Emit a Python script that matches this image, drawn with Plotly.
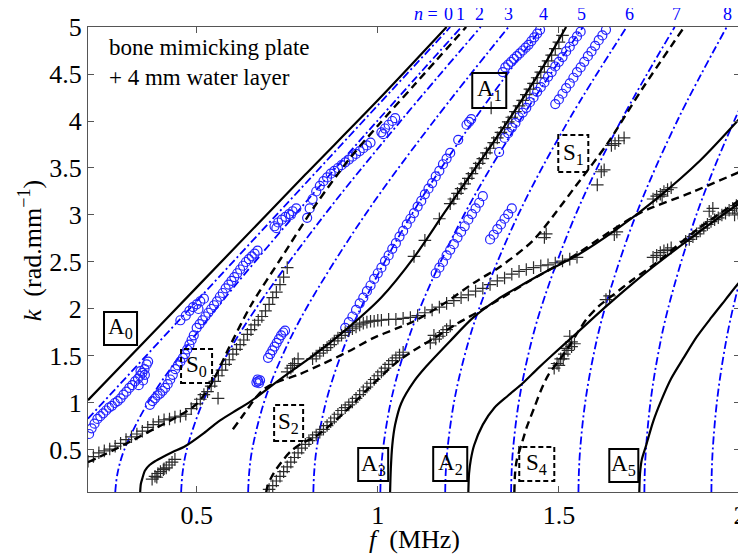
import plotly.graph_objects as go

# ---------------- theory curves: antisymmetric modes (solid black) ----------------
A0_f = [0.2, 0.4, 0.6, 0.8, 1.0, 1.19]
A0_k = [1.03, 1.83, 2.63, 3.43, 4.22, 5.0]

A1_f = [0.344, 0.346, 0.351, 0.357, 0.37, 0.385, 0.404, 0.435, 0.468, 0.52, 0.559, 0.60, 0.65,
        0.733, 0.827, 0.918, 1.009, 1.1, 1.183, 1.277, 1.368, 1.46, 1.52]
A1_k = [0.05, 0.14, 0.21, 0.28, 0.34, 0.38, 0.42, 0.48, 0.54, 0.68, 0.80, 0.90, 1.02,
        1.26, 1.52, 1.80, 2.12, 2.55, 3.02, 3.54, 4.05, 4.60, 5.0]

A3_f = [1.034, 1.036, 1.040, 1.048, 1.065, 1.10, 1.134, 1.2, 1.264, 1.33, 1.4, 1.475, 1.55, 1.66, 1.772, 1.89, 2.0]
A3_k = [0.05, 0.3, 0.55, 0.77, 1.0, 1.23, 1.39, 1.66, 1.91, 2.1, 2.26, 2.42, 2.57, 2.85, 3.18, 3.58, 4.03]

A2_f = [1.25, 1.252, 1.257, 1.266, 1.29, 1.322, 1.36, 1.40, 1.44, 1.479, 1.551, 1.631, 1.70, 1.764, 1.88, 2.0]
A2_k = [0.05, 0.25, 0.4, 0.55, 0.77, 0.95, 1.08, 1.21, 1.36, 1.5, 1.75, 2.03, 2.26, 2.46, 2.8, 3.13]

A5_f = [1.722, 1.724, 1.729, 1.741, 1.76, 1.783, 1.81, 1.846, 1.88, 1.921, 1.96, 1.993, 2.0]
A5_k = [0.05, 0.25, 0.4, 0.55, 0.8, 1.03, 1.26, 1.49, 1.7, 1.91, 2.1, 2.26, 2.29]

# ---------------- theory curves: symmetric modes (dashed black) ----------------
S0_f = [0.2, 0.25, 0.322, 0.38, 0.44, 0.5, 0.543, 0.587, 0.65, 0.733, 0.827, 0.918, 1.0, 1.1, 1.244]
S0_k = [0.37, 0.46, 0.6, 0.72, 0.84, 0.99, 1.22, 1.57, 2.04, 2.54, 3.1, 3.58, 3.95, 4.38, 5.0]

S1_f = [0.60, 0.63, 0.66, 0.683, 0.72, 0.78, 0.85, 0.92, 0.987, 1.05, 1.1, 1.18, 1.266, 1.338,
        1.429, 1.504, 1.543, 1.634, 1.728, 1.846]
S1_k = [0.72, 0.88, 1.04, 1.14, 1.22, 1.3, 1.42, 1.55, 1.69, 1.79, 1.87, 2.05, 2.28, 2.45,
        2.73, 3.09, 3.29, 3.76, 4.33, 5.0]

S2_f = [0.692, 0.696, 0.705, 0.717, 0.74, 0.761, 0.79, 0.827, 0.9, 0.965, 1.051, 1.1, 1.16, 1.217,
        1.3, 1.42, 1.543, 1.64, 1.728, 1.866, 2.0]
S2_k = [0.05, 0.12, 0.2, 0.28, 0.4, 0.49, 0.57, 0.64, 0.87, 1.12, 1.43, 1.56, 1.7, 1.84,
        2.02, 2.3, 2.57, 2.82, 3.03, 3.24, 3.46]

S4_f = [1.377, 1.379, 1.384, 1.396, 1.412, 1.432, 1.45, 1.471, 1.5, 1.526, 1.55, 1.578, 1.61, 1.65,
        1.7, 1.772, 1.88, 2.0]
S4_k = [0.05, 0.25, 0.4, 0.55, 0.75, 0.95, 1.13, 1.3, 1.45, 1.59, 1.74, 1.9, 2.03, 2.15,
        2.3, 2.5, 2.84, 3.16]

# ---------------- water-layer modes n = 0 ... 10 (blue dash-dot) ----------------
N0_f = [0.2, 1.2]
N0_k = [0.833, 5.0]
WATER_K = [0.05, 0.25, 0.5, 1.0, 1.5, 2.0, 3.0, 4.0, 5.0]
N1_f = [0.2752, 0.2814, 0.3000, 0.3650, 0.4530, 0.5532, 0.7707, 0.9986, 1.2311]
N2_f = [0.4571, 0.4609, 0.4724, 0.5161, 0.5817, 0.6627, 0.8528, 1.0632, 1.2841]
N3_f = [0.6421, 0.6448, 0.6531, 0.6854, 0.7361, 0.8016, 0.9647, 1.1549, 1.3610]
N4_f = [0.8221, 0.8242, 0.8307, 0.8563, 0.8974, 0.9519, 1.0928, 1.2638, 1.4545]
N5_f = [1.0070, 1.0088, 1.0141, 1.0352, 1.0694, 1.1155, 1.2379, 1.3913, 1.5665]
N6_f = [1.1861, 1.1875, 1.1921, 1.2100, 1.2394, 1.2794, 1.3874, 1.5259, 1.6872]
N7_f = [1.3680, 1.3693, 1.3732, 1.3889, 1.4146, 1.4498, 1.5459, 1.6712, 1.8197]
N8_f = [1.5540, 1.5551, 1.5586, 1.5724, 1.5951, 1.6264, 1.7127, 1.8266, 1.9634]
N9_f = [1.7360, 1.7370, 1.7402, 1.7525, 1.7729, 1.8011, 1.8794, 1.9838, 2.1104]
N10_f = [1.9210, 1.9219, 1.9247, 1.9359, 1.9544, 1.9801, 2.0515, 2.1475, 2.26]
N_LABELS = ["0", "1", "2", "3", "4", "5", "6", "7", "8"]
N_LABEL_F = [1.194, 1.228, 1.280, 1.360, 1.457, 1.562, 1.694, 1.824, 1.965]

# ---------------- measured: blue circles ----------------
CIRC_F = [
    0.203, 0.210, 0.218, 0.226, 0.234, 0.242, 0.250, 0.258, 0.266, 0.274, 0.282, 0.290, 0.298, 0.306,
    0.314, 0.322, 0.330, 0.338, 0.344, 0.350, 0.356, 0.362, 0.340, 0.352, 0.357, 0.366, 0.345,
    0.371, 0.378, 0.385, 0.392, 0.399, 0.406, 0.413, 0.420, 0.427, 0.434, 0.441, 0.448, 0.455, 0.462,
    0.468, 0.474, 0.480, 0.486, 0.492,
    0.455, 0.470, 0.480, 0.490, 0.500, 0.510, 0.520, 0.505,
    0.500, 0.508, 0.516, 0.524, 0.532, 0.540, 0.548, 0.556, 0.564, 0.572, 0.580, 0.588, 0.596, 0.604,
    0.612, 0.620, 0.628, 0.636, 0.644, 0.652, 0.660, 0.668,
    0.715, 0.725, 0.735, 0.745, 0.755, 0.765, 0.775, 0.720, 0.760,
    0.805, 0.812, 0.820, 0.830, 0.840, 0.850, 0.860, 0.870, 0.880, 0.890, 0.900, 0.910, 0.920, 0.930,
    0.940, 0.950, 0.960, 0.970, 0.980,
    1.010, 1.020, 1.030, 1.040, 1.048, 1.015,
    0.697, 0.703, 0.709, 0.715, 0.721, 0.727, 0.733, 0.739, 0.744,
    0.665, 0.670, 0.675, 0.668, 0.672,
    0.91, 0.92, 0.93, 0.94, 0.95, 0.96, 0.97, 0.98, 0.99, 1.00, 1.01, 1.02, 1.03, 1.04, 1.05, 1.06,
    1.07, 1.08, 1.09, 1.10, 1.11, 1.12, 1.13, 1.14, 1.15, 1.16, 1.17, 1.18, 1.19, 1.20,
    1.222, 1.252, 1.258, 1.245,
    1.345, 1.352, 1.360, 1.368, 1.376, 1.384, 1.392, 1.400, 1.408, 1.416, 1.424, 1.432, 1.440, 1.448,
    1.335, 1.35, 1.36, 1.37, 1.38, 1.39, 1.40, 1.41, 1.42, 1.43, 1.44, 1.45, 1.46, 1.47, 1.48, 1.49,
    1.50, 1.51, 1.52, 1.53, 1.54, 1.55, 1.56,
    1.49, 1.50, 1.51, 1.52, 1.53, 1.54, 1.55, 1.56, 1.57, 1.58, 1.59, 1.60, 1.61, 1.62, 1.63,
    1.16, 1.17, 1.18, 1.19, 1.20, 1.21, 1.22, 1.23, 1.24, 1.25, 1.26, 1.27, 1.28, 1.29,
    1.31, 1.32, 1.33, 1.34, 1.35, 1.36, 1.37,
]
CIRC_K = [
    0.67, 0.73, 0.78, 0.83, 0.86, 0.89, 0.92, 0.95, 0.97, 1.00, 1.02, 1.05, 1.09, 1.12,
    1.16, 1.19, 1.23, 1.26, 1.29, 1.32, 1.36, 1.41, 1.19, 1.24, 1.30, 1.44, 1.34,
    0.98, 1.02, 1.05, 1.08, 1.10, 1.13, 1.16, 1.20, 1.25, 1.30, 1.36, 1.40, 1.44, 1.48,
    1.52, 1.57, 1.62, 1.67, 1.72,
    1.88, 1.93, 1.98, 2.02, 2.05, 2.08, 2.11, 2.00,
    1.80, 1.84, 1.88, 1.92, 1.96, 2.00, 2.04, 2.08, 2.13, 2.17, 2.22, 2.26, 2.30, 2.34,
    2.38, 2.42, 2.46, 2.50, 2.53, 2.56, 2.59, 2.62,
    2.88, 2.92, 2.95, 2.98, 3.01, 3.04, 3.07, 2.86, 3.00,
    2.97, 3.07, 3.17, 3.25, 3.31, 3.36, 3.40, 3.44, 3.47, 3.50, 3.53, 3.56, 3.59, 3.62,
    3.65, 3.68, 3.71, 3.74, 3.77,
    3.88, 3.92, 3.96, 4.00, 4.03, 3.86,
    1.48, 1.52, 1.56, 1.60, 1.64, 1.68, 1.72, 1.75, 1.77,
    1.22, 1.23, 1.24, 1.25, 1.21,
    1.80, 1.86, 1.92, 1.99, 2.06, 2.12, 2.19, 2.25, 2.32, 2.38, 2.44, 2.51, 2.57, 2.64, 2.70, 2.77,
    2.83, 2.90, 2.96, 3.02, 3.09, 3.15, 3.22, 3.28, 3.34, 3.41, 3.47, 3.54, 3.60, 3.66,
    3.80, 3.99, 4.02, 3.96,
    4.52, 4.57, 4.60, 4.63, 4.66, 4.69, 4.72, 4.75, 4.78, 4.81, 4.85, 4.89, 4.93, 4.97,
    3.67, 3.82, 3.87, 3.93, 3.98, 4.04, 4.09, 4.14, 4.20, 4.25, 4.31, 4.36, 4.41, 4.47, 4.52, 4.58,
    4.63, 4.68, 4.74, 4.79, 4.85, 4.90, 4.95,
    4.18, 4.23, 4.29, 4.35, 4.40, 4.46, 4.52, 4.57, 4.63, 4.69, 4.74, 4.80, 4.86, 4.91, 4.97,
    2.38, 2.44, 2.50, 2.57, 2.63, 2.69, 2.76, 2.82, 2.88, 2.95, 3.01, 3.07, 3.13, 3.20,
    2.74, 2.79, 2.85, 2.90, 2.96, 3.01, 3.07,
]

# ---------------- measured: black crosses ----------------
PLUS_F = [
    0.20, 0.215, 0.23, 0.245, 0.26, 0.275, 0.29, 0.305, 0.32, 0.335, 0.35, 0.365, 0.38, 0.395, 0.41,
    0.425, 0.44, 0.455, 0.47, 0.485, 0.50, 0.51, 0.52, 0.53, 0.54, 0.55, 0.56, 0.57, 0.58, 0.59,
    0.60, 0.61, 0.62, 0.63, 0.64, 0.65, 0.66, 0.67, 0.68, 0.69, 0.70, 0.71, 0.72, 0.73, 0.74, 0.75,
    0.559,
    0.377, 0.385, 0.393, 0.400, 0.408, 0.416, 0.424, 0.432, 0.440, 0.390, 0.410,
    0.75, 0.76, 0.77, 0.78, 0.765,
    0.82, 0.83, 0.84, 0.85, 0.86, 0.87, 0.88, 0.89, 0.90, 0.91, 0.92, 0.93, 0.94, 0.95, 0.96, 0.97,
    0.98, 0.99, 1.00,
    1.01, 1.03, 1.05, 1.07, 1.09, 1.11, 1.13, 1.15, 1.17, 1.19, 1.21, 1.23, 1.25, 1.27, 1.29, 1.31,
    1.33, 1.35, 1.37, 1.39, 1.41, 1.43, 1.45, 1.47, 1.49, 1.51, 1.53, 1.55,
    1.653, 1.66, 1.76, 1.77, 1.78, 1.79, 1.80, 1.81, 1.785,
    0.70, 0.71, 0.72, 0.73, 0.74, 0.75, 0.76, 0.77, 0.78, 0.79, 0.80, 0.81, 0.82, 0.83, 0.84, 0.85,
    0.86, 0.87, 0.88, 0.89, 0.90, 0.91, 0.92, 0.93, 0.94, 0.95, 0.96, 0.97, 0.98, 0.99, 1.00, 1.01,
    1.02, 1.03, 1.04, 1.05, 1.06, 1.07,
    1.145, 1.16, 1.17, 1.18, 1.19, 1.20, 1.155,
    1.645, 1.655, 1.665, 1.68, 1.617, 1.625, 1.606, 1.46, 1.465,
    1.487, 1.495, 1.505, 1.515, 1.525, 1.535, 1.543, 1.50, 1.52, 1.512, 1.53, 1.535, 1.63, 1.64,
    1.76, 1.77, 1.78, 1.79, 1.80, 1.81, 1.85, 1.86, 1.87, 1.88, 1.89, 1.90, 1.91, 1.92, 1.93, 1.94,
    1.95, 1.96, 1.97, 1.98, 1.99, 2.0, 1.915, 1.925, 1.985, 1.995,
    1.10, 1.13, 1.17, 1.20, 1.21, 1.22, 1.23, 1.24, 1.25, 1.26, 1.27, 1.28, 1.29, 1.30, 1.31, 1.32,
    1.33, 1.34, 1.35, 1.36, 1.37, 1.38, 1.39, 1.40, 1.41, 1.42, 1.43, 1.44, 1.45, 1.46, 1.47, 1.48,
    1.49, 1.50, 1.51, 1.313,
]
PLUS_K = [
    0.38, 0.43, 0.47, 0.49, 0.51, 0.54, 0.57, 0.61, 0.64, 0.67, 0.70, 0.74, 0.77, 0.80, 0.82,
    0.83, 0.85, 0.86, 0.88, 0.94, 0.99, 1.04, 1.09, 1.12, 1.18, 1.23, 1.29, 1.35, 1.41, 1.46,
    1.52, 1.57, 1.62, 1.67, 1.73, 1.78, 1.83, 1.88, 1.92, 1.98, 2.05, 2.12, 2.18, 2.26, 2.34, 2.44,
    1.05,
    0.19, 0.22, 0.25, 0.27, 0.29, 0.31, 0.34, 0.37, 0.40, 0.21, 0.30,
    1.33, 1.37, 1.42, 1.47, 1.40,
    1.47, 1.50, 1.53, 1.56, 1.59, 1.62, 1.66, 1.69, 1.72, 1.75, 1.77, 1.79, 1.81, 1.83, 1.85, 1.86,
    1.87, 1.87, 1.88,
    1.88, 1.89, 1.89, 1.90, 1.91, 1.93, 1.96, 1.99, 2.02, 2.06, 2.09, 2.12, 2.15, 2.19, 2.22, 2.26,
    2.30, 2.33, 2.37, 2.40, 2.42, 2.44, 2.46, 2.47, 2.49, 2.51, 2.53, 2.55,
    2.79, 2.82, 3.17, 3.20, 3.22, 3.25, 3.27, 3.29, 3.20,
    0.08, 0.12, 0.17, 0.22, 0.27, 0.32, 0.37, 0.42, 0.47, 0.52, 0.56, 0.60, 0.63, 0.66, 0.69, 0.72,
    0.76, 0.80, 0.84, 0.88, 0.92, 0.95, 0.98, 1.01, 1.05, 1.09, 1.13, 1.17, 1.21, 1.25, 1.29, 1.33,
    1.37, 1.41, 1.45, 1.48, 1.51, 1.54,
    1.64, 1.68, 1.71, 1.75, 1.78, 1.82, 1.72,
    3.74, 3.76, 3.79, 3.82, 3.46, 3.48, 3.32, 2.76, 2.80,
    1.37, 1.42, 1.47, 1.52, 1.56, 1.60, 1.63, 1.40, 1.58, 1.47, 1.71, 1.65, 2.10, 2.14,
    2.55, 2.57, 2.60, 2.62, 2.63, 2.65, 2.72, 2.74, 2.77, 2.80, 2.83, 2.86, 2.90, 2.93, 2.95, 2.97,
    3.00, 3.02, 3.05, 3.07, 3.10, 3.12, 3.04, 3.07, 3.00, 3.02,
    2.56, 2.73, 2.96, 3.12, 3.17, 3.23, 3.28, 3.33, 3.39, 3.44, 3.50, 3.55, 3.60, 3.66, 3.71, 3.77,
    3.82, 3.88, 3.93, 3.99, 4.04, 4.10, 4.16, 4.22, 4.28, 4.34, 4.40, 4.46, 4.52, 4.58, 4.64, 4.70,
    4.77, 4.84, 4.91, 4.14,
]

# ---------------- mode labels ----------------
BOX_LABELS = ["A<sub>0</sub>", "A<sub>1</sub>", "S<sub>0</sub>", "S<sub>1</sub>", "S<sub>2</sub>",
              "A<sub>3</sub>", "A<sub>2</sub>", "S<sub>4</sub>", "A<sub>5</sub>"]

FONT = "Liberation Serif, Times New Roman, serif"

fig = go.Figure()

blue_dash = "8px,3px,2px,3px"
water_f = [N1_f, N2_f, N3_f, N4_f, N5_f, N6_f, N7_f, N8_f, N9_f, N10_f]
fig.add_trace(go.Scatter(x=N0_f, y=N0_k, mode="lines",
                         line=dict(color="#0000ff", width=1.8, dash=blue_dash), showlegend=False))
for wf in water_f:
    fig.add_trace(go.Scatter(x=wf, y=WATER_K, mode="lines",
                             line=dict(color="#0000ff", width=1.8, dash=blue_dash, shape="spline"),
                             showlegend=False))

fig.add_trace(go.Scatter(x=CIRC_F, y=CIRC_K, mode="markers",
                         marker=dict(symbol="circle-open", size=9, color="#2222ff", line=dict(width=1.2)),
                         showlegend=False))
fig.add_trace(go.Scatter(x=PLUS_F, y=PLUS_K, mode="markers",
                         marker=dict(symbol="cross-thin-open", size=9, color="#2b2b2b", line=dict(width=1.2)),
                         showlegend=False))

for fx, ky in [(A0_f, A0_k), (A1_f, A1_k), (A3_f, A3_k), (A2_f, A2_k), (A5_f, A5_k)]:
    fig.add_trace(go.Scatter(x=fx, y=ky, mode="lines",
                             line=dict(color="black", width=2.2, shape="spline", smoothing=0.8),
                             showlegend=False))
for fx, ky in [(S0_f, S0_k), (S1_f, S1_k), (S2_f, S2_k), (S4_f, S4_k)]:
    fig.add_trace(go.Scatter(x=fx, y=ky, mode="lines",
                             line=dict(color="black", width=2.4, dash="8px,5px", shape="spline", smoothing=0.8),
                             showlegend=False))

boxes = [
    (0.2442, 0.3354, 1.617, 1.968, False),
    (1.2608, 1.3547, 4.138, 4.511, False),
    (0.4569, 0.5425, 1.213, 1.574, True),
    (1.4983, 1.5812, 3.457, 3.851, True),
    (0.7138, 0.7939, 0.596, 0.979, True),
    (0.9459, 1.0287, 0.170, 0.521, False),
    (1.153, 1.247, 0.170, 0.532, False),
    (1.3906, 1.4873, 0.170, 0.532, True),
    (1.6392, 1.7193, 0.160, 0.511, False),
]
for (x0, x1, y0, y1, dashed), lab in zip(boxes, BOX_LABELS):
    fig.add_shape(type="rect", x0=x0, x1=x1, y0=y0, y1=y1, xref="x", yref="y",
                  line=dict(color="black", width=2, dash="5px,3px" if dashed else "solid"),
                  fillcolor="rgba(0,0,0,0)", layer="above")
    fig.add_annotation(x=(x0 + x1) / 2, y=(y0 + y1) / 2, text=lab, showarrow=False,
                       font=dict(family=FONT, size=23, color="black"), xanchor="center", yanchor="middle")

fig.add_annotation(x=1.172, y=1.0, xref="x", yref="paper", text="<i>n</i> =", showarrow=False,
                   xanchor="right", yanchor="bottom", yshift=1,
                   font=dict(family=FONT, size=18, color="#0000ff"))
for lab, xf in zip(N_LABELS, N_LABEL_F):
    fig.add_annotation(x=xf, y=1.0, xref="x", yref="paper", text=lab, showarrow=False,
                       xanchor="center", yanchor="bottom", yshift=1,
                       font=dict(family=FONT, size=18, color="#0000ff"))

fig.add_annotation(x=0.029, y=0.988, xref="paper", yref="paper",
                   text="bone mimicking plate<br>+ 4 mm water layer", showarrow=False,
                   xanchor="left", yanchor="top", align="left",
                   font=dict(family=FONT, size=23, color="black"))

fig.add_annotation(x=0.5, y=-0.103, xref="paper", yref="paper", text="<i>f</i>  (MHz)",
                   showarrow=False, xanchor="center", yanchor="middle",
                   font=dict(family=FONT, size=26, color="black"))
fig.add_annotation(x=-0.089, y=0.52, xref="paper", yref="paper", text="<i>k</i>  (rad.mm<sup>−1</sup>)",
                   showarrow=False, xanchor="center", yanchor="middle", textangle=-90,
                   font=dict(family=FONT, size=26, color="black"))

axis_common = dict(showgrid=False, zeroline=False, showline=True, linecolor="#555555", linewidth=1,
                   mirror="ticks", ticks="inside", ticklen=6, tickcolor="#555555", automargin=False,
                   ticklabeloverflow="allow",
                   tickfont=dict(family=FONT, size=26, color="black"))
fig.update_xaxes(range=[0.2, 2.0], tickvals=[0.5, 1, 1.5, 2], ticktext=["0.5", "1", "1.5", "2"],
                 **axis_common)
fig.update_yaxes(range=[0.053, 5.0], tickvals=[0.5, 1, 1.5, 2, 2.5, 3, 3.5, 4, 4.5, 5],
                 ticktext=["0.5", "1", "1.5", "2", "2.5", "3", "3.5", "4", "4.5", "5"], **axis_common)

# the page body adds an 8 px offset, so the figure is sized to compensate
fig.update_layout(width=738, height=548, margin=dict(l=80, r=6, t=19, b=64),
                  paper_bgcolor="white", plot_bgcolor="white", showlegend=False)

fig.write_html("out.html")
